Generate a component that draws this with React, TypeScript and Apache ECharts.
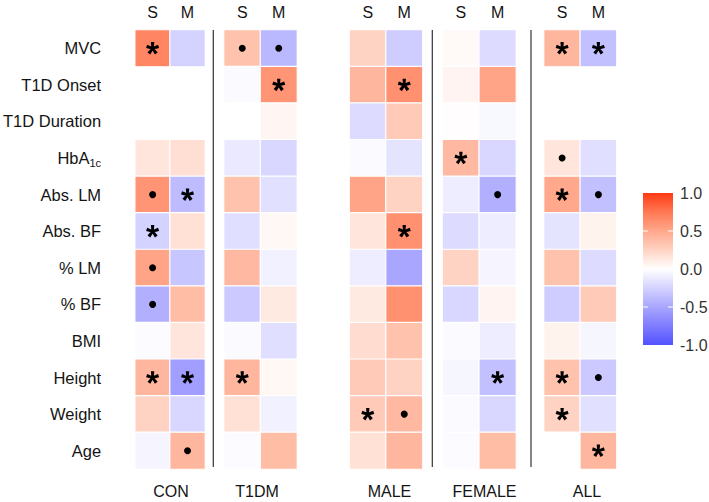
import React, { useEffect, useRef } from "react";
import * as echarts from "echarts";

// ---------- data ----------
const ROWS = ["MVC", "T1D Onset", "T1D Duration", "HbA1c", "Abs. LM", "Abs. BF", "% LM", "% BF", "BMI", "Height", "Weight", "Age"];
const MEASURES = ["S", "M"];
const GROUPS = ["CON", "T1DM", "MALE", "FEMALE", "ALL"];
const LEGEND_TICKS = [1.0, 0.5, 0.0, -0.5, -1.0];

const conS = [0.68, null, null, 0.15, 0.6, -0.25, 0.52, -0.45, -0.02, 0.42, 0.25, -0.06];
const conM = [-0.25, null, null, 0.18, -0.38, 0.17, -0.32, 0.38, 0.15, -0.55, -0.22, 0.42];
const t1dmS = [0.35, -0.03, 0.0, -0.12, 0.35, -0.18, 0.4, -0.3, -0.03, 0.42, 0.17, -0.02];
const t1dmM = [-0.4, 0.6, 0.05, -0.22, -0.17, 0.04, -0.08, 0.12, -0.18, 0.04, -0.08, 0.38];
const maleS = [0.25, 0.42, -0.2, -0.03, 0.52, 0.15, -0.1, 0.12, 0.2, 0.3, 0.3, 0.17];
const maleM = [-0.28, 0.62, 0.3, -0.15, 0.25, 0.62, -0.5, 0.62, 0.35, 0.25, 0.4, 0.42];
const femaleS = [0.03, 0.06, 0.01, 0.4, -0.1, -0.2, 0.25, -0.22, -0.03, -0.05, -0.03, -0.02];
const femaleM = [-0.2, 0.52, -0.04, -0.22, -0.45, -0.1, -0.06, 0.06, -0.1, -0.35, -0.22, 0.38];
const allS = [0.42, null, null, 0.15, 0.5, -0.15, 0.35, -0.28, 0.07, 0.35, 0.25, 0.0];
const allM = [-0.35, null, null, -0.18, -0.35, 0.07, -0.2, 0.3, -0.05, -0.3, -0.17, 0.42];

const conSSig = ["*", "", "", "", "•", "*", "•", "•", "", "*", "", ""];
const conMSig = ["", "", "", "", "*", "", "", "", "", "*", "", "•"];
const t1dmSSig = ["•", "", "", "", "", "", "", "", "", "*", "", ""];
const t1dmMSig = ["•", "*", "", "", "", "", "", "", "", "", "", ""];
const maleSSig = ["", "", "", "", "", "", "", "", "", "", "*", ""];
const maleMSig = ["", "*", "", "", "", "*", "", "", "", "", "•", ""];
const femaleSSig = ["", "", "", "*", "", "", "", "", "", "", "", ""];
const femaleMSig = ["", "", "", "", "•", "", "", "", "", "*", "", ""];
const allSSig = ["*", "", "", "•", "*", "", "", "", "", "*", "*", ""];
const allMSig = ["*", "", "", "", "•", "", "", "", "", "•", "", "*"];

const VALUES = [[conS, conM], [t1dmS, t1dmM], [maleS, maleM], [femaleS, femaleM], [allS, allM]];
const SIGS = [[conSSig, conMSig], [t1dmSSig, t1dmMSig], [maleSSig, maleMSig], [femaleSSig, femaleMSig], [allSSig, allMSig]];

// ---------- styling ----------
const FONT = "'Liberation Sans', Arial, sans-serif";
const TEXT = "#141414";
const GRID_LEFT = [133, 224, 349.5, 442.5, 544];
const GRID_WIDTH = [72, 73, 73, 73.5, 72.5];
const GRID_TOP = 30;
const GRID_HEIGHT = 439;
const GROUP_LABEL_X = [171, 257, 389.5, 484.5, 587];
const SEPARATOR_X = [213.3, 432.3, 531];
const COLOR_STOPS = ["#5252ff", "#7f7cff", "#a9a6ff", "#d4d2ff", "#ffffff", "#ffd3c3", "#ffa88c", "#ff7853", "#ff3a14"];
const BAR = { x: 643, y: 193, w: 30, h: 152 };

function asteriskPath(): string {
  const r = 10, w0 = 1.9, w1 = 2.7;
  let d = "";
  for (let k = 0; k < 5; k++) {
    const t = (k * 72 * Math.PI) / 180;
    const dx = Math.sin(t), dy = -Math.cos(t);
    const px = Math.cos(t), py = Math.sin(t);
    const pts = [
      [px * w0, py * w0],
      [px * w1 + dx * r, py * w1 + dy * r],
      [-px * w1 + dx * r, -py * w1 + dy * r],
      [-px * w0, -py * w0],
    ].map(([a, b]) => [(a + 14).toFixed(3), (b + 14).toFixed(3)]);
    d += `M${pts[0][0]} ${pts[0][1]} L${pts[1][0]} ${pts[1][1]} L${pts[2][0]} ${pts[2][1]} L${pts[3][0]} ${pts[3][1]} Z `;
  }
  return "path://" + d.trim();
}

export default function App() {
  const ref = useRef<HTMLDivElement>(null);
  useEffect(() => {
    if (!ref.current) return;
    const chart = echarts.init(ref.current, undefined, { renderer: "svg" });
    const star = asteriskPath();

    const grids = GROUPS.map((_, i) => ({
      left: GRID_LEFT[i], width: GRID_WIDTH[i], top: GRID_TOP, height: GRID_HEIGHT,
    }));
    const xAxes = GROUPS.map((_, i) => ({
      type: "category", gridIndex: i, data: MEASURES, position: "top",
      axisLine: { show: false }, axisTick: { show: false }, splitLine: { show: false },
      axisLabel: { fontSize: 16, color: TEXT, fontFamily: FONT, margin: 10 },
    }));
    const yAxes = GROUPS.map((_, i) => ({
      type: "category", gridIndex: i, data: ROWS, inverse: true,
      axisLine: { show: false }, axisTick: { show: false }, splitLine: { show: false },
      axisLabel: {
        show: i === 0, fontSize: 16.5, color: TEXT, fontFamily: FONT, margin: 34,
        formatter: (v: string) => (v === "HbA1c" ? "{a|HbA}{b|1c}" : v),
        rich: {
          a: { fontSize: 16.5, color: TEXT, fontFamily: FONT, lineHeight: 20 },
          b: { fontSize: 11, color: TEXT, fontFamily: FONT, verticalAlign: "bottom", lineHeight: 14 },
        },
      },
    }));

    const heatSeries = GROUPS.map((g, i) => {
      const data: any[] = [];
      VALUES[i].forEach((arr, m) => {
        arr.forEach((v, r) => { if (v !== null) data.push([m, r, v]); });
      });
      return {
        name: g, type: "heatmap", xAxisIndex: i, yAxisIndex: i, data,
        itemStyle: { borderColor: "#ffffff", borderWidth: 1.2 },
        emphasis: { disabled: true },
      };
    });
    const markSeries = GROUPS.map((g, i) => {
      const data: any[] = [];
      SIGS[i].forEach((arr, m) => {
        arr.forEach((s, r) => {
          if (s === "*") data.push({ value: [m, r], symbol: star, symbolSize: [13, 12.5] });
          else if (s === "•") data.push({ value: [m, r], symbol: "circle", symbolSize: 7 });
        });
      });
      return {
        name: g + " sig", type: "scatter", xAxisIndex: i, yAxisIndex: i, data,
        itemStyle: { color: "#000000", opacity: 1 }, z: 5, emphasis: { disabled: true },
      };
    });

    const barScale = (v: number) => BAR.y + ((1 - v) / 2) * BAR.h;
    const graphic: any[] = [];
    SEPARATOR_X.forEach((x) => graphic.push({
      type: "line", shape: { x1: x, y1: 30, x2: x, y2: 467 },
      style: { stroke: "#333333", lineWidth: 1.2 }, silent: true,
    }));
    GROUPS.forEach((g, i) => graphic.push({
      type: "text", x: GROUP_LABEL_X[i], y: 491,
      style: { text: g, fontSize: 16, fill: TEXT, fontFamily: FONT, align: "center", verticalAlign: "middle" },
    }));
    graphic.push({
      type: "rect", shape: { x: BAR.x, y: BAR.y, width: BAR.w, height: BAR.h },
      style: {
        fill: new echarts.graphic.LinearGradient(0, 0, 0, 1,
          COLOR_STOPS.slice().reverse().map((c, k, a) => ({ offset: k / (a.length - 1), color: c }))),
      },
    });
    LEGEND_TICKS.forEach((t) => {
      const y = barScale(t);
      if (Math.abs(t) < 1 && t !== 0) {
        graphic.push({ type: "line", shape: { x1: BAR.x, y1: y, x2: BAR.x + 5, y2: y }, style: { stroke: "#ffffff", lineWidth: 1 } });
        graphic.push({ type: "line", shape: { x1: BAR.x + BAR.w - 5, y1: y, x2: BAR.x + BAR.w, y2: y }, style: { stroke: "#ffffff", lineWidth: 1 } });
      }
      graphic.push({
        type: "text", x: 680, y,
        style: { text: t.toFixed(1), fontSize: 16, fill: "#333333", fontFamily: FONT, align: "left", verticalAlign: "middle" },
      });
    });

    chart.setOption({
      animation: false,
      backgroundColor: "#ffffff",
      grid: grids,
      xAxis: xAxes,
      yAxis: yAxes,
      visualMap: {
        type: "continuous", min: -1, max: 1, show: false,
        seriesIndex: [0, 1, 2, 3, 4],
        inRange: { color: COLOR_STOPS },
      },
      series: [...heatSeries, ...markSeries],
      graphic,
    });
    return () => chart.dispose();
  }, []);
  return <div ref={ref} style={{ position: "fixed", left: 0, top: 0, width: 709, height: 502 }} />;
}
